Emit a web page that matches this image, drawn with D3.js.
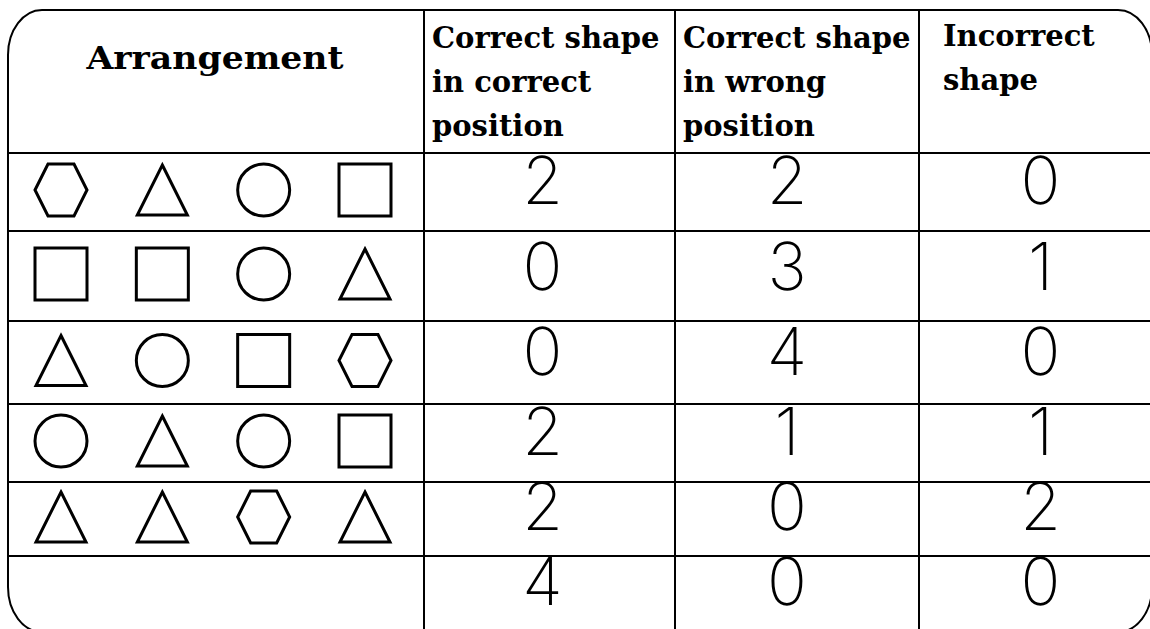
<!DOCTYPE html>
<html>
<head>
<meta charset="utf-8">
<script src="https://cdn.jsdelivr.net/npm/d3@7"></script>
<style>
    html, body { margin: 0; padding: 0; background: #fff; }
    svg { display: block; }
    .grid { stroke: #000; stroke-width: 2; fill: none; }
    .shape { stroke: #000; stroke-width: 3; fill: none; stroke-linejoin: miter; }
    .head { font-family: "DejaVu Serif", Georgia, serif; font-weight: bold; font-size: 29px; fill: #000; }
    .num { font-family: Inter, "Open Sans", sans-serif; font-weight: 150; font-size: 66px; fill: #000; }
</style>
</head>
<body>
<div id="chart"></div>
<script>
// table content
const headers = [
    ["Arrangement"],
    ["Correct shape", "in correct", "position"],
    ["Correct shape", "in wrong", "position"],
    ["Incorrect", "shape"]
];
const arrangements = [
    ["hexagon", "triangle", "circle", "square"],
    ["square", "square", "circle", "triangle"],
    ["triangle", "circle", "square", "hexagon"],
    ["circle", "triangle", "circle", "square"],
    ["triangle", "triangle", "hexagon", "triangle"],
    []
];
const correctPosition = [2, 0, 0, 2, 2, 4];
const wrongPosition   = [2, 3, 4, 1, 0, 0];
const incorrectShape  = [0, 1, 0, 1, 2, 0];

const width = 1150, height = 629;

// layout: column and row boundaries of the grid
const colEdges = [8, 424, 675, 919, 1152];
const rowEdges = [10, 153, 231, 321, 404, 482, 556, 632];

const x = d3.scaleLinear().domain(d3.range(colEdges.length)).range(colEdges);
const y = d3.scaleLinear().domain(d3.range(rowEdges.length)).range(rowEdges);
const slot = d3.scalePoint().domain([0, 1, 2, 3]).range([61, 365]);

const svg = d3.select("#chart").append("svg")
    .attr("width", width)
    .attr("height", height);

// outer rounded frame
svg.append("rect")
    .attr("class", "grid")
    .attr("x", x(0)).attr("y", y(0))
    .attr("width", x(4) - x(0)).attr("height", y(7) - y(0))
    .attr("rx", 34).attr("ry", 45);

// horizontal lines between rows
svg.selectAll(".hline")
    .data(d3.range(1, rowEdges.length - 1))
    .enter().append("line")
    .attr("class", "grid hline")
    .attr("x1", x(0)).attr("x2", x(4))
    .attr("y1", d => y(d)).attr("y2", d => y(d));

// vertical lines between columns
svg.selectAll(".vline")
    .data(d3.range(1, colEdges.length - 1))
    .enter().append("line")
    .attr("class", "grid vline")
    .attr("x1", d => x(d)).attr("x2", d => x(d))
    .attr("y1", y(0)).attr("y2", y(7));

// header texts
const headG = svg.append("g");
headG.append("text")
    .attr("class", "head")
    .attr("x", (x(0) + x(1)) / 2 - 1)
    .attr("y", 69)
    .attr("text-anchor", "middle")
    .style("font-size", "31px")
    .attr("textLength", 257)
    .attr("lengthAdjust", "spacingAndGlyphs")
    .text(headers[0][0]);

headers.slice(1).forEach((lines, i) => {
    let col = i + 1;
    let pad = col === 3 ? 24 : 8;
    let top = col === 3 ? 46 : 48;
    headG.selectAll(null)
        .data(lines)
        .enter().append("text")
        .attr("class", "head")
        .attr("x", x(col) + pad)
        .attr("y", (d, k) => top + k * 44)
        .text(d => d);
});

// shape drawing
function shapePath(kind) {
    let p = d3.path();
    if (kind === "circle") {
        p.arc(0, 0, 26, 0, 2 * Math.PI);
    } else if (kind === "square") {
        p.rect(-26, -26, 52, 52);
    } else if (kind === "triangle") {
        p.moveTo(0, -25); p.lineTo(25, 25); p.lineTo(-25, 25); p.closePath();
    } else if (kind === "hexagon") {
        p.moveTo(-26, 0); p.lineTo(-13, -26); p.lineTo(13, -26);
        p.lineTo(26, 0); p.lineTo(13, 26); p.lineTo(-13, 26); p.closePath();
    }
    return p.toString();
}

const rowsG = svg.selectAll(".row")
    .data(arrangements)
    .enter().append("g")
    .attr("class", "row")
    .attr("transform", (d, i) => "translate(0," + ((y(i + 1) + y(i + 2)) / 2 - 2) + ")");

rowsG.selectAll("path")
    .data(d => d)
    .enter().append("path")
    .attr("class", "shape")
    .attr("transform", (d, j) => "translate(" + slot(j) + ",0)")
    .attr("d", shapePath);

// counts
const counts = [correctPosition, wrongPosition, incorrectShape];
counts.forEach((vals, c) => {
    let col = c + 1;
    svg.selectAll(null)
        .data(vals)
        .enter().append("text")
        .attr("class", "num")
        .attr("text-anchor", "middle")
        .attr("x", (x(col) + x(col + 1)) / 2 + [-7, -10, 5][c])
        .attr("y", (d, i) => y(i + 1) + 0.65 * (y(i + 2) - y(i + 1)))
        .text(d => d);
});
</script>
</body>
</html>
